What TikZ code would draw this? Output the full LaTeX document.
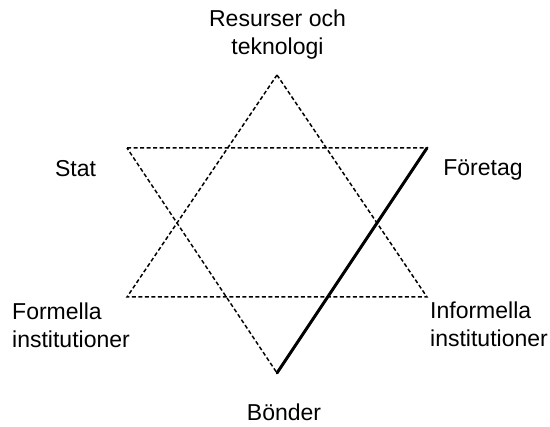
\documentclass[tikz,border=0pt]{standalone}
\usepackage{fontspec}
\setmainfont{Liberation Sans}
\usepackage{tikz}
\usetikzlibrary{positioning}

\tikzset{
  lbl/.style={font=\fontsize{23}{28.5}\selectfont, inner sep=0pt},
  stj/.style={dash pattern=on 4pt off 2.5pt, line width=1.5pt}
}

\begin{document}
\begin{tikzpicture}[x=1pt, y=-1pt]
  \useasboundingbox (0,0) rectangle (550,427);

  % spetsarna
  \coordinate (top) at (277,75);
  \coordinate (bl) at (127,297);
  \coordinate (br) at (427,297);
  \coordinate (tl) at (127,148);
  \coordinate (tr) at (427,148);
  \coordinate (bot) at (277,373);

  \draw[stj] (top) -- (br) -- (bl) -- cycle;
  \draw[stj] (tl) -- (tr) -- (bot) -- cycle;

  \draw[line width=3pt, line cap=round] (tr) -- (bot);

  % etiketter (base = sista radens baslinje)
  \node[lbl, align=center, anchor=base] (res) at (277.5,55) {Resurser och\\teknologi};
  \node[lbl, anchor=base] (stat) at (75.5,177) {Stat};
  \node[lbl, anchor=base] (foretag) at (483,176) {Företag};
  \node[lbl, align=left, anchor=base west] (formella) at (12,348) {Formella\\institutioner};
  \node[lbl, align=left, anchor=base west] (informella) at (430,347) {Informella\\institutioner};
  \node[lbl, anchor=base] (bonder) at (284,421) {Bönder};

\end{tikzpicture}
\end{document}
